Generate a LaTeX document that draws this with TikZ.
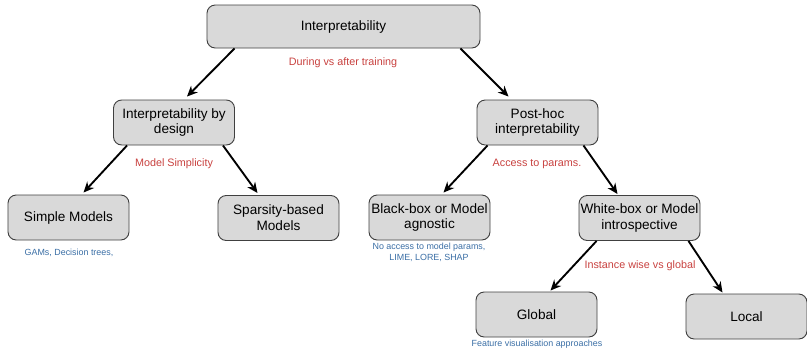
\documentclass[tikz,border=0pt]{standalone}
\usepackage{fontspec}
\setmainfont{Liberation Sans}
\usetikzlibrary{arrows.meta, calc}
\definecolor{boxgray}{HTML}{D9D9D9}
\definecolor{edgegray}{HTML}{404040}
\definecolor{critred}{HTML}{C8413F}
\definecolor{notesblue}{HTML}{3A6EA5}
\tikzstyle{block} = [rectangle, rounded corners=7pt,
    minimum width=3.63cm, minimum height=1.35cm,
    align=center, inner xsep=1pt, font=\fontsize{11.6}{13.6}\selectfont,
    draw=edgegray, line width=0.8pt, fill=boxgray]
\tikzstyle{arrow} = [line width=1.6pt, -{Stealth[length=9pt,width=8pt]}]
\tikzstyle{crit} = [text=critred, font=\fontsize{9.2}{11}\selectfont]
\tikzstyle{notes} = [text=notesblue, align=center, font=\fontsize{7.6}{9.4}\selectfont]

\begin{document}
\begin{tikzpicture}[x=0.03cm, y=-0.03cm]
  \useasboundingbox (0,0) rectangle (807,350);

  % boxes
  \node (interp)   [block, minimum width=8.19cm, minimum height=1.29cm] at (343.5,26.5) {Interpretability};
  \node (design)   [block] at (174,122.5)   {Interpretability by\\ design};
  \node (posthoc)  [block] at (537.5,122.5) {Post-hoc\\ interpretability};
  \node (simple)   [block] at (68.5,217.5)  {Simple Models};
  \node (sparse)   [block] at (278.5,218)   {Sparsity-based\\ Models};
  \node (blackbox) [block] at (429.5,217.5) {Black-box or Model\\ agnostic};
  \node (whitebox) [block] at (639.5,218)   {White-box or Model\\ introspective};
  \node (global)   [block] at (536.5,314.5) {Global};
  \node (local)    [block] at (746.5,316.5) {Local};

  % criteria and examples
  \node (during)     [crit] at (343,63)  {During vs after training};
  \node (simplicity) [crit] at (174,164) {Model Simplicity};
  \node (access)     [crit] at (537,164) {Access to params.};
  \node (instance)   [crit] at (640,266) {Instance wise vs global};
  \node (gams)     [notes] at (69,253)    {GAMs, Decision trees,};
  \node (noaccess) [notes] at (429,252.5) {No access to model params,\\ LIME, LORE, SHAP};
  \node (featvis)  [notes] at (537,344.5) {Feature visualisation approaches};

  \draw[arrow] ($(interp.south west)+(28,0)$)   -- ($(design.north)+(13,-3)$);
  \draw[arrow] ($(interp.south east)+(-20,0)$)  -- ($(posthoc.north)+(-29,-3)$);
  \draw[arrow] ($(design.south west)+(14,0)$)   -- ($(simple.north)+(15,-2)$);
  \draw[arrow] ($(design.south east)+(-12,0)$)  -- ($(sparse.north)+(-21,-2)$);
  \draw[arrow] ($(posthoc.south west)+(11,0)$)  -- ($(blackbox.north)+(14,-2)$);
  \draw[arrow] ($(posthoc.south east)+(-15,0)$) -- ($(whitebox.north)+(-22,-1)$);
  \draw[arrow] ($(whitebox.south west)+(18,0)$) -- ($(global.north)+(14,-1)$);
  \draw[arrow] ($(whitebox.south east)+(-12,0)$) -- ($(local.north)+(-24,-1)$);
\end{tikzpicture}
\end{document}
